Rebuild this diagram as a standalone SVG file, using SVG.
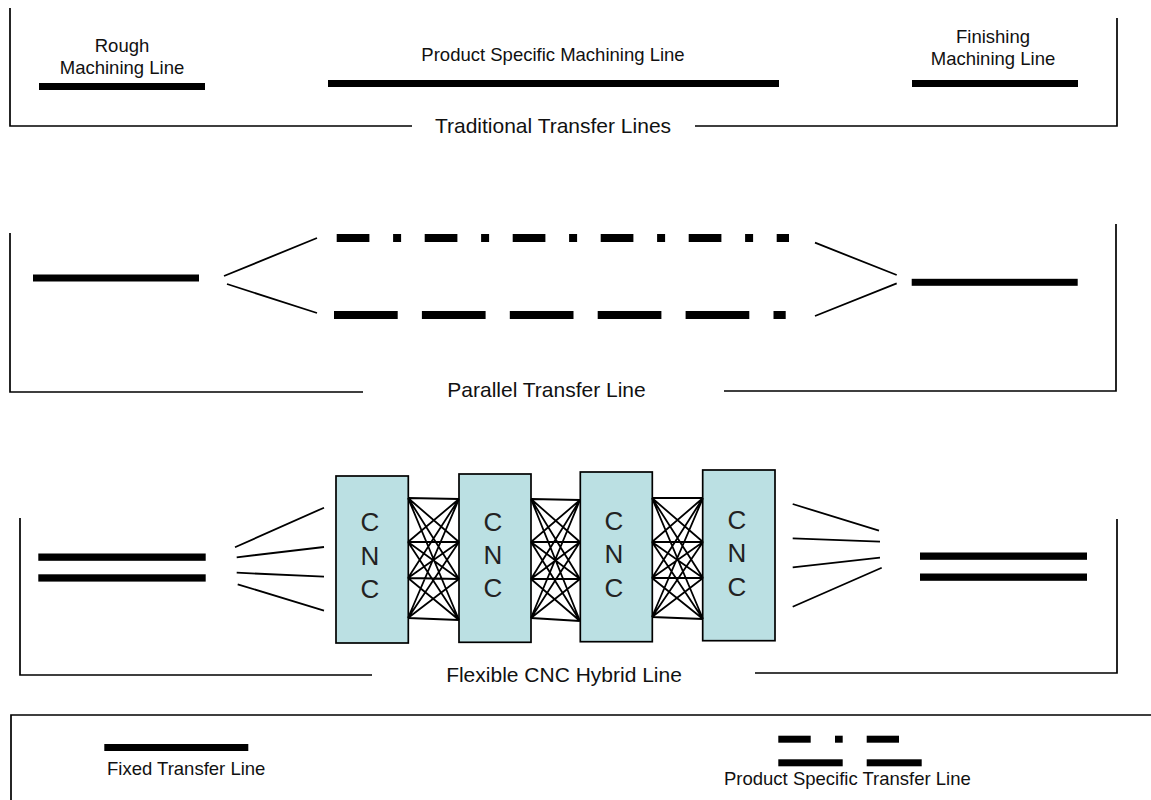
<svg xmlns="http://www.w3.org/2000/svg" width="1151" height="800" viewBox="0 0 1151 800">
<style>
.frame{fill:none;stroke:#000;stroke-width:1.7}
.thin{fill:none;stroke:#000;stroke-width:1.8}
.bar{fill:#000}
.lbl{font-family:"Liberation Sans",Arial,sans-serif;font-size:18.5px;fill:#111}
.sec{font-family:"Liberation Sans",Arial,sans-serif;font-size:21px;fill:#111;text-anchor:middle}
.cnc{fill:#BBE0E3;stroke:#000;stroke-width:1.7}
.cnct{font-family:"Liberation Sans",Arial,sans-serif;font-size:26px;fill:#222;text-anchor:middle}
.mid{text-anchor:middle}
</style>
<rect width="1151" height="800" fill="#fff"/>

<g id="traditional">
  <path class="frame" d="M10 8V126H412M695 126H1117V18"/>
  <text class="sec" x="553" y="133">Traditional Transfer Lines</text>
  <g id="rough">
    <text class="lbl mid" x="122" y="52">Rough</text>
    <text class="lbl mid" x="122" y="74">Machining Line</text>
    <rect class="bar" x="39" y="83" width="166" height="7"/>
  </g>
  <g id="product-specific">
    <text class="lbl mid" x="553" y="61">Product Specific Machining Line</text>
    <rect class="bar" x="328" y="80" width="451" height="7"/>
  </g>
  <g id="finishing">
    <text class="lbl mid" x="993" y="43">Finishing</text>
    <text class="lbl mid" x="993" y="65">Machining Line</text>
    <rect class="bar" x="912" y="80" width="166" height="7"/>
  </g>
</g>

<g id="parallel">
  <path class="frame" d="M10 233V392H363M724 391H1116V224"/>
  <text class="sec" x="546.5" y="397">Parallel Transfer Line</text>
  <rect id="par-in" class="bar" x="33" y="274.5" width="166" height="7"/>
  <line x1="336.7" y1="238" x2="789" y2="238" stroke="#000" stroke-width="8" stroke-dasharray="32.7 23.7 8 23.6"/>
  <line x1="334" y1="315" x2="785.7" y2="315" stroke="#000" stroke-width="8" stroke-dasharray="63.7 24.2"/>
  <rect id="par-out" class="bar" x="911.7" y="278.8" width="166" height="7"/>
</g>

<g id="flexible">
  <path class="frame" d="M20 518V675H372M755 673H1117V519"/>
  <text class="sec" x="564" y="682">Flexible CNC Hybrid Line</text>
  <g id="flex-in">
    <rect class="bar" x="38.3" y="553.5" width="167.4" height="7.3"/>
    <rect class="bar" x="38.3" y="574.3" width="167.4" height="7.3"/>
  </g>
  <g id="flex-out">
    <rect class="bar" x="920" y="552.5" width="167" height="7.3"/>
    <rect class="bar" x="920" y="573.5" width="167" height="7.3"/>
  </g>
  <g id="cnc1">
    <rect class="cnc" x="336" y="476" width="72.3" height="167"/>
    <text class="cnct" x="370" y="531">C</text>
    <text class="cnct" x="370" y="565">N</text>
    <text class="cnct" x="370" y="598">C</text>
  </g>
  <g id="cnc2">
    <rect class="cnc" x="459" y="474" width="72" height="168.3"/>
    <text class="cnct" x="493" y="531">C</text>
    <text class="cnct" x="493" y="564">N</text>
    <text class="cnct" x="493" y="597">C</text>
  </g>
  <g id="cnc3">
    <rect class="cnc" x="580.3" y="472" width="72" height="169.7"/>
    <text class="cnct" x="614" y="530">C</text>
    <text class="cnct" x="614" y="563">N</text>
    <text class="cnct" x="614" y="597">C</text>
  </g>
  <g id="cnc4">
    <rect class="cnc" x="702.7" y="470" width="72.3" height="170.7"/>
    <text class="cnct" x="737" y="529">C</text>
    <text class="cnct" x="737" y="562">N</text>
    <text class="cnct" x="737" y="596">C</text>
  </g>
</g>

<g id="connectors" class="thin">
  <path d="M224 276L317 238M227 284L317 313M815 242.7L896.7 275M815 316L896.7 283.3"/>
  <path d="M235 547.3L324 507.7M236.7 557.3L324 547M236.7 572.7L324 576.7M237.7 584.3L324 610.7"/>
  <path d="M792.7 504L879 530.7M792.7 538.3L880 541.7M792.7 567.3L880 557.7M792.7 606.7L881.7 567.7"/>
  <path d="M408 498L459 499M408 498L459 542M408 498L459 579M408 498L459 620M408 542L459 499M408 542L459 542M408 542L459 579M408 542L459 620M408 578L459 499M408 578L459 542M408 578L459 579M408 578L459 620M408 618L459 499M408 618L459 542M408 618L459 579M408 618L459 620"/>
  <path d="M531 499L580 500M531 499L580 542M531 499L580 579M531 499L580 621M531 542L580 500M531 542L580 542M531 542L580 579M531 542L580 621M531 579L580 500M531 579L580 542M531 579L580 579M531 579L580 621M531 618L580 500M531 618L580 542M531 618L580 579M531 618L580 621"/>
  <path d="M652 498L703 498M652 498L703 542M652 498L703 578M652 498L703 619M652 542L703 498M652 542L703 542M652 542L703 578M652 542L703 619M652 578L703 498M652 578L703 542M652 578L703 578M652 578L703 619M652 617L703 498M652 617L703 542M652 617L703 578M652 617L703 619"/>
</g>

<g id="legend">
  <path class="frame" d="M11 800V715H1151" stroke-width="2"/>
  <g id="legend-fixed">
    <rect class="bar" x="104.3" y="744" width="144" height="7"/>
    <text class="lbl" x="107" y="775">Fixed Transfer Line</text>
  </g>
  <g id="legend-product">
    <rect class="bar" x="778.3" y="735.7" width="32.4" height="7"/>
    <rect class="bar" x="835" y="735.7" width="7.7" height="7"/>
    <rect class="bar" x="866.7" y="735.7" width="32.3" height="7"/>
    <rect class="bar" x="778.3" y="759.3" width="64.4" height="7"/>
    <rect class="bar" x="866.7" y="759.3" width="55" height="7"/>
    <text class="lbl" x="724" y="785">Product Specific Transfer Line</text>
  </g>
</g>
</svg>
